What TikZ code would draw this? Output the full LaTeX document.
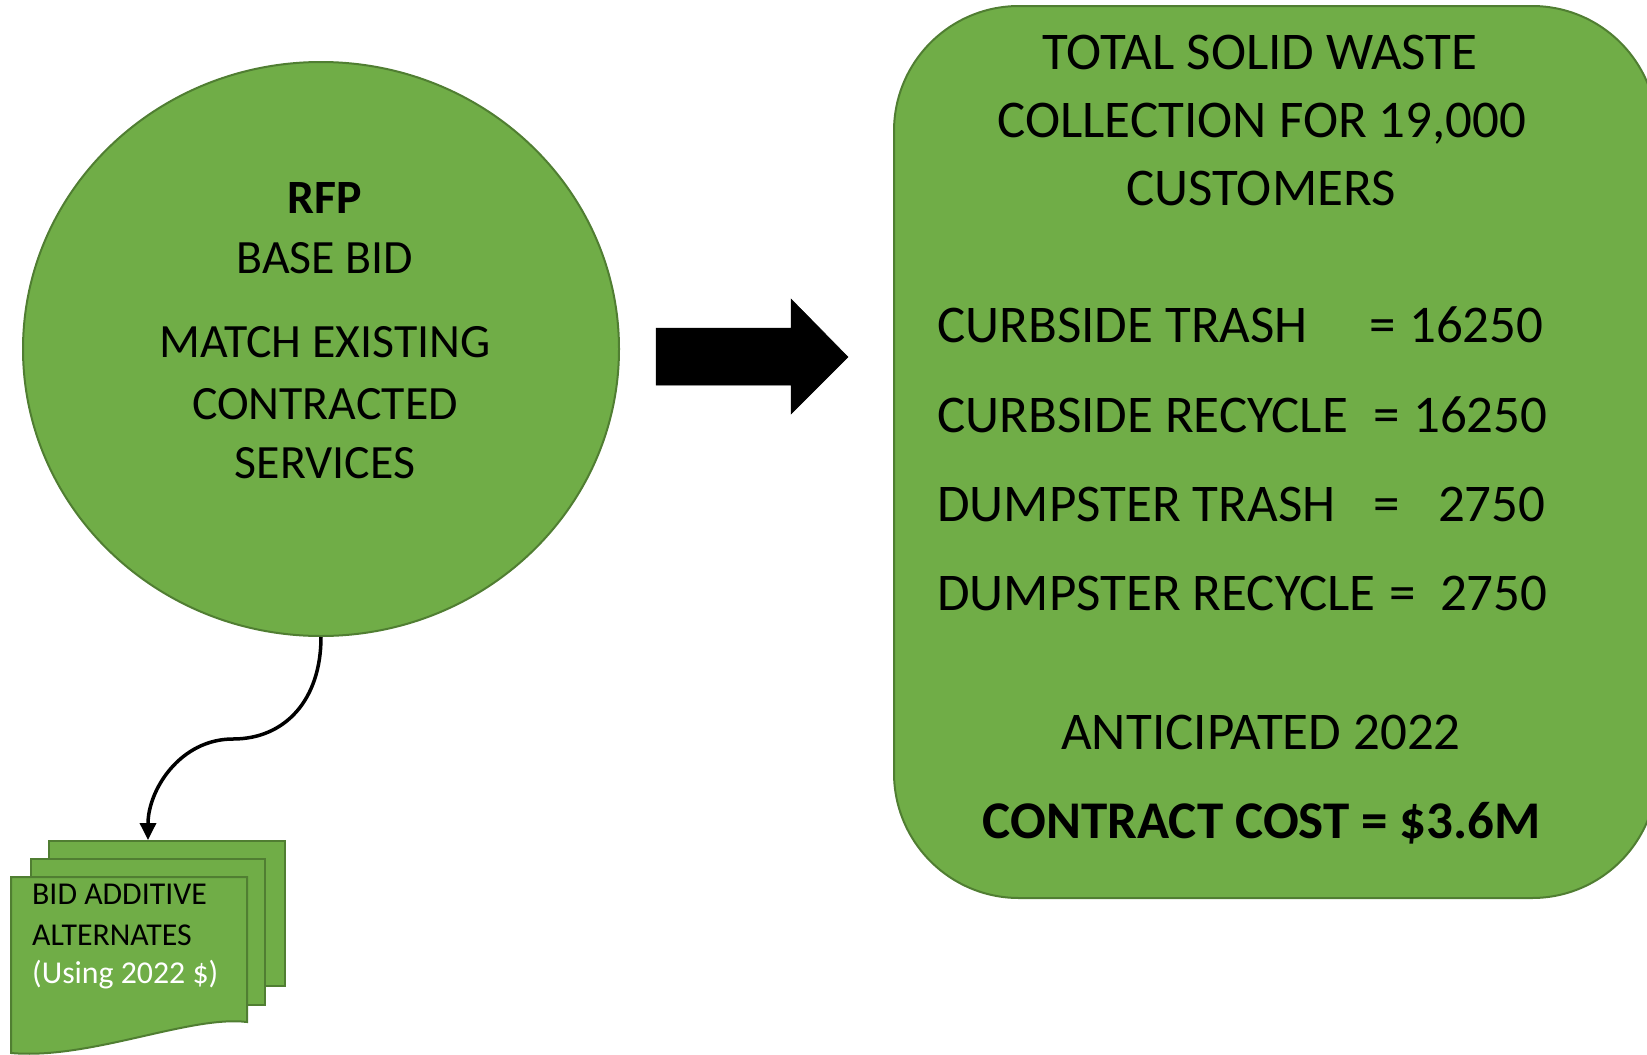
\documentclass[tikz,border=0pt]{standalone}
\usepackage{fontspec}
\setmainfont{Carlito}
\usetikzlibrary{shapes.geometric,arrows.meta}
\definecolor{fillg}{HTML}{70AD47}
\definecolor{edgeg}{HTML}{507E32}
\begin{document}
\begin{tikzpicture}[x=1pt,y=-1pt,
  shapefill/.style={fill=fillg,draw=edgeg,line width=2pt},
  bigtxt/.style={font=\fontsize{53}{64}\selectfont,anchor=base,inner sep=0pt},
  midtxt/.style={font=\fontsize{47.8}{56}\selectfont,anchor=base,inner sep=0pt},
  smalltxt/.style={font=\fontsize{31.8}{38}\selectfont,anchor=base west,inner sep=0pt},
  rowtxt/.style={bigtxt,anchor=base west},
  conn/.style={line width=3.5pt,-{Triangle[length=17pt,width=16pt]}},
]
\useasboundingbox (0,0) rectangle (1647,1055);
\begin{scope}
\clip (0,0) rectangle (1647,1055);
% right rounded box
\draw[shapefill,rounded corners=125pt] (894,6) rectangle (1657,898);
\end{scope}
\coordinate (boxnw) at (894,6);

% circle
\node[shapefill,ellipse,minimum width=596pt,minimum height=574pt,inner sep=0pt] (rfp) at (321,349) {};

% block arrow
\draw[fill=black,draw=black,line width=0.5pt] (656,328) -- (791,328) -- (791,299) -- (848,357) -- (791,414) -- (791,385) -- (656,385) -- cycle;

% document stack
\node[shapefill,rectangle,anchor=north west,minimum width=236pt,minimum height=145pt,inner sep=0pt] (docback) at (48,840) {};
\node[shapefill,rectangle,anchor=north west,minimum width=234pt,minimum height=146pt,inner sep=0pt] (docmid) at (30,858) {};
\draw[shapefill] (11,877) -- (247,877) -- (247,1022) .. controls (190,1015) and (90,1060) .. (11,1053) -- cycle;
\coordinate (tip) at (148,840);

% connector
\draw[conn] (rfp.south) .. controls (321,700) and (285,739) .. (233,739) .. controls (180,739) and (148,790) .. (tip);

% circle text
\node[midtxt] (t1) at (325,213) {\bfseries RFP};
\node[midtxt] (t2) at (325,273) {BASE BID};
\node[midtxt] (t3) at (325,357) {MATCH EXISTING};
\node[midtxt] (t4) at (325,419) {CONTRACTED};
\node[midtxt] (t5) at (325,478) {SERVICES};

% box text
\node[bigtxt] (b1) at (1260,69) {TOTAL SOLID WASTE};
\node[bigtxt] (b2) at (1262,137) {COLLECTION FOR 19,000};
\node[bigtxt] (b3) at (1261,205) {CUSTOMERS};
\node[rowtxt] (r1) at (937,342) {\makebox[432pt][l]{CURBSIDE TRASH}=\makebox[148pt][r]{16250}};
\node[rowtxt] (r2) at (937,432) {\makebox[436pt][l]{CURBSIDE RECYCLE}=\makebox[148pt][r]{16250}};
\node[rowtxt] (r3) at (937,521) {\makebox[436pt][l]{DUMPSTER TRASH}=\makebox[146pt][r]{2750}};
\node[rowtxt] (r4) at (937,610) {\makebox[452pt][l]{DUMPSTER RECYCLE}=\makebox[132pt][r]{2750}};
\node[bigtxt] (b4) at (1261,749) {ANTICIPATED 2022};
\node[bigtxt] (b5) at (1262,838) {\bfseries CONTRACT COST = \$3.6M};

% doc text
\node[smalltxt] (d1) at (32,904) {BID ADDITIVE};
\node[smalltxt] (d2) at (32,945) {ALTERNATES};
\node[smalltxt,text=white] (d3) at (32,983) {(Using 2022 \$)};
\end{tikzpicture}
\end{document}
